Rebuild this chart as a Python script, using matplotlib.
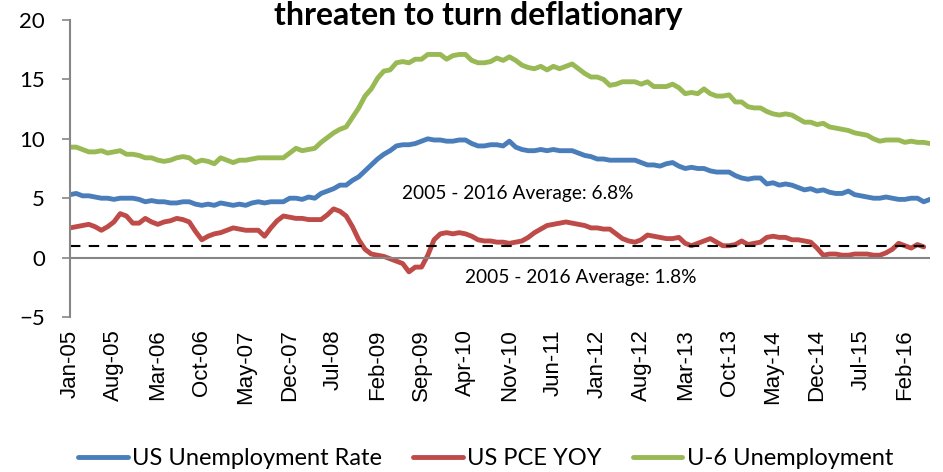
import numpy as np
import pandas as pd
import matplotlib
matplotlib.use("Agg")
import matplotlib.pyplot as plt

# monthly data, Jan-05 .. Jun-16
unemp = [5.3, 5.4, 5.2, 5.2, 5.1, 5.0, 5.0, 4.9, 5.0, 5.0, 5.0, 4.9,
         4.7, 4.8, 4.7, 4.7, 4.6, 4.6, 4.7, 4.7, 4.5, 4.4, 4.5, 4.4,
         4.6, 4.5, 4.4, 4.5, 4.4, 4.6, 4.7, 4.6, 4.7, 4.7, 4.7, 5.0,
         5.0, 4.9, 5.1, 5.0, 5.4, 5.6, 5.8, 6.1, 6.1, 6.5, 6.8, 7.3,
         7.8, 8.3, 8.7, 9.0, 9.4, 9.5, 9.5, 9.6, 9.8, 10.0, 9.9, 9.9,
         9.8, 9.8, 9.9, 9.9, 9.6, 9.4, 9.4, 9.5, 9.5, 9.4, 9.8, 9.3,
         9.1, 9.0, 9.0, 9.1, 9.0, 9.1, 9.0, 9.0, 9.0, 8.8, 8.6, 8.5,
         8.3, 8.3, 8.2, 8.2, 8.2, 8.2, 8.2, 8.0, 7.8, 7.8, 7.7, 7.9,
         8.0, 7.7, 7.5, 7.6, 7.5, 7.5, 7.3, 7.2, 7.2, 7.2, 6.9, 6.7,
         6.6, 6.7, 6.7, 6.2, 6.3, 6.1, 6.2, 6.1, 5.9, 5.7, 5.8, 5.6,
         5.7, 5.5, 5.4, 5.4, 5.6, 5.3, 5.2, 5.1, 5.0, 5.0, 5.1, 5.0,
         4.9, 4.9, 5.0, 5.0, 4.7, 4.9]

u6 = [9.3, 9.3, 9.1, 8.9, 8.9, 9.0, 8.8, 8.9, 9.0, 8.7, 8.7, 8.6,
      8.4, 8.4, 8.2, 8.1, 8.2, 8.4, 8.5, 8.4, 8.0, 8.2, 8.1, 7.9,
      8.4, 8.2, 8.0, 8.2, 8.2, 8.3, 8.4, 8.4, 8.4, 8.4, 8.4, 8.8,
      9.2, 9.0, 9.1, 9.2, 9.7, 10.1, 10.5, 10.8, 11.0, 11.8, 12.6, 13.6,
      14.2, 15.1, 15.7, 15.8, 16.4, 16.5, 16.4, 16.7, 16.7, 17.1, 17.1, 17.1,
      16.7, 17.0, 17.1, 17.1, 16.6, 16.4, 16.4, 16.5, 16.8, 16.6, 16.9, 16.6,
      16.2, 16.0, 15.9, 16.1, 15.8, 16.1, 15.9, 16.1, 16.3, 15.9, 15.5, 15.2,
      15.2, 15.0, 14.5, 14.6, 14.8, 14.8, 14.8, 14.6, 14.8, 14.4, 14.4, 14.4,
      14.6, 14.3, 13.8, 13.9, 13.8, 14.2, 13.8, 13.6, 13.6, 13.7, 13.1, 13.1,
      12.7, 12.6, 12.6, 12.3, 12.1, 12.0, 12.1, 12.0, 11.7, 11.4, 11.4, 11.2,
      11.3, 11.0, 10.9, 10.8, 10.7, 10.5, 10.4, 10.3, 10.0, 9.8, 9.9, 9.9,
      9.9, 9.7, 9.8, 9.7, 9.7, 9.6]

# PCE YoY, Jan-05 .. May-16
pce = [2.5, 2.6, 2.7, 2.8, 2.6, 2.3, 2.6, 3.0, 3.7, 3.5, 2.9, 2.9,
       3.3, 3.0, 2.8, 3.0, 3.1, 3.3, 3.2, 3.0, 2.2, 1.5, 1.8, 2.0,
       2.1, 2.3, 2.5, 2.4, 2.3, 2.3, 2.3, 1.8, 2.5, 3.1, 3.5, 3.4,
       3.3, 3.3, 3.2, 3.2, 3.2, 3.6, 4.1, 3.9, 3.5, 2.6, 1.5, 0.7,
       0.3, 0.2, 0.1, -0.1, -0.3, -0.5, -1.2, -0.8, -0.8, 0.2, 1.5, 2.0,
       2.1, 2.0, 2.1, 2.0, 1.8, 1.5, 1.4, 1.4, 1.3, 1.3, 1.2, 1.3,
       1.4, 1.7, 2.1, 2.4, 2.7, 2.8, 2.9, 3.0, 2.9, 2.8, 2.7, 2.5,
       2.5, 2.4, 2.4, 2.0, 1.6, 1.4, 1.3, 1.5, 1.9, 1.8, 1.7, 1.6,
       1.6, 1.7, 1.2, 1.0, 1.2, 1.4, 1.6, 1.3, 1.0, 1.0, 1.1, 1.4,
       1.1, 1.2, 1.3, 1.7, 1.8, 1.7, 1.7, 1.5, 1.5, 1.4, 1.3, 0.8,
       0.2, 0.3, 0.3, 0.2, 0.2, 0.3, 0.3, 0.3, 0.2, 0.2, 0.4, 0.7,
       1.2, 1.0, 0.8, 1.1, 0.9]

pce_line = 1.0
months = pd.date_range("2005-01-01", periods=len(unemp), freq="MS")
tick_labels = [d.strftime("%b-%y") for d in months[::7]]

blue = "#4A7EBB"
red = "#BE4B48"
green = "#98B954"
grey = "#868686"
calib = ["Lato", "DejaVu Sans"]

fig = plt.figure(figsize=(9.43, 4.72), dpi=100)
ax = fig.add_axes([0.0742, 0.3284, 0.912, 0.6292])

x = np.arange(len(unemp))
ax.plot(x, unemp, color=blue, lw=3.5, label="US Unemployment Rate", solid_capstyle="round")
ax.plot(np.arange(len(pce)), pce, color=red, lw=3.5, label="US PCE YOY", solid_capstyle="round")
ax.plot(x, u6, color=green, lw=3.5, label="U-6 Unemployment", solid_capstyle="round")
ax.axhline(pce_line, color="black", lw=1.5, ls=(0, (5, 4)))
ax.axhline(0, color=grey, lw=1.5)

ax.set_xlim(0, len(unemp) - 1)
ax.set_ylim(-5, 20)
ax.set_yticks(range(-5, 21, 5))
ax.set_xticks(x[::7])
ax.set_xticklabels(tick_labels, rotation=90, family="Liberation Sans", fontsize=16)
ax.tick_params(axis="x", length=0, pad=9)
ax.tick_params(axis="y", length=6, width=1.2, color=grey, pad=12, labelsize=16)
for lab in ax.get_yticklabels():
    lab.set_family(calib)

for s in ["top", "right", "bottom"]:
    ax.spines[s].set_visible(False)
ax.spines["left"].set_color(grey)
ax.spines["left"].set_linewidth(1.5)

ax.text(71.4, 5.4, "2005 - 2016 Average: 6.8%", ha="center", va="center",
        fontsize=13.8, family=calib)
ax.text(81.3, -1.65, "2005 - 2016 Average: 1.8%", ha="center", va="center",
        fontsize=13.8, family=calib)

fig.text(0.507, 0.946, "threaten to turn deflationary", ha="center", va="baseline",
         fontsize=23, fontweight="bold", family=calib)

fig.legend(loc="center", bbox_to_anchor=(0.515, 0.028), ncol=3, frameon=False,
           prop={"family": calib, "size": 17}, handlelength=2.1,
           handletextpad=0.2, columnspacing=1.3)

fig.savefig("out.png", dpi=100)
